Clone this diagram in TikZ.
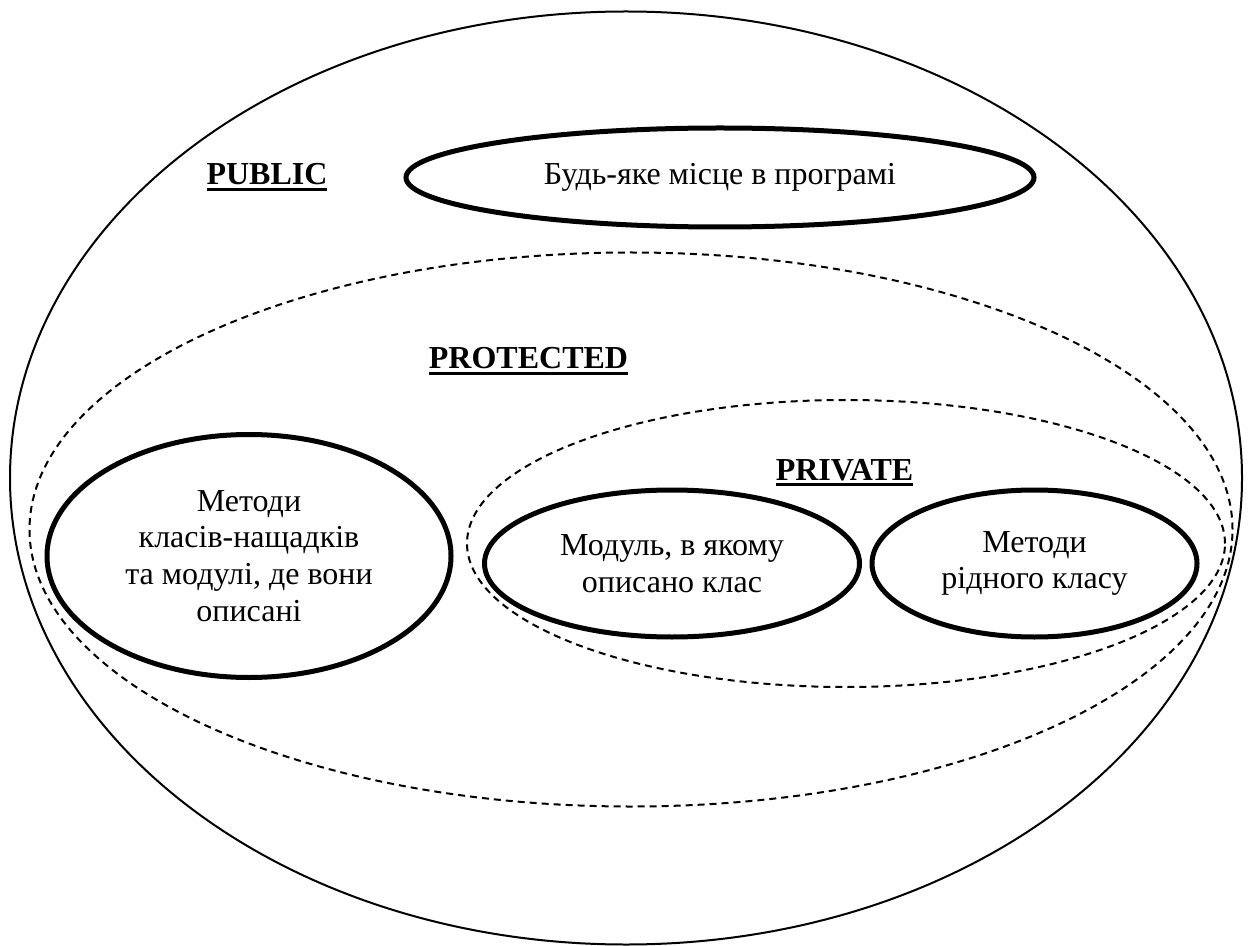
\documentclass[tikz,border=0pt]{standalone}
\usepackage{fontspec}
\setmainfont{Liberation Serif}
\usetikzlibrary{shapes.geometric}

% bold level name with a heavy underline
\newcommand\levelname[1]{%
	\setbox0=\hbox{\textbf{#1}}%
	\leavevmode\rlap{\vrule width\wd0 height -1.5pt depth 3pt}\box0}

\tikzset{
	zone/.style={ellipse, draw, line width=1pt, inner sep=0pt},
	dashzone/.style={zone, dash pattern=on 3.5pt off 2.5pt},
	place/.style={ellipse, draw, line width=2.5pt, inner sep=0pt, align=center},
	levellabel/.style={anchor=base, inner sep=0pt},
}

\begin{document}
\begin{tikzpicture}[x=0.5pt, y=-0.5pt, font=\fontsize{16}{18.35}\selectfont]
		\useasboundingbox (0,0) rectangle (1252,946);
		% access zones
		\node[zone, minimum width=616pt, minimum height=466.5pt] (public) at (626,478) {};
		\node[dashzone, minimum width=601.5pt, minimum height=277pt] (protected) at (631,529.5) {};
		\node[dashzone, minimum width=379pt, minimum height=143.5pt] (private) at (846,543.5) {};
		% level names
		\node[levellabel] (publiclabel) at (267,185) {\levelname{PUBLIC}};
		\node[levellabel] (protectedlabel) at (528.5,369) {\levelname{PROTECTED}};
		\node[levellabel] (privatelabel) at (844.5,480) {\levelname{PRIVATE}};
		% places
		\node[place, minimum width=314pt, minimum height=49.5pt] (anyplace) at (720,177.5) {Будь-яке місце в програмі};
		\node[place, minimum width=202pt, minimum height=121.5pt] (heirs) at (249,556)
			{Методи\\класів-нащадків\\та модулі, де вони\\описані};
		\node[place, minimum width=187.5pt, minimum height=73.5pt] (module) at (672,563.5)
			{Модуль, в якому\\описано клас};
		\node[place, minimum width=162.5pt, minimum height=73.5pt] (ownmethods) at (1034.5,563.5)
			{Методи\\рідного класу};
	\end{tikzpicture}
\end{document}
